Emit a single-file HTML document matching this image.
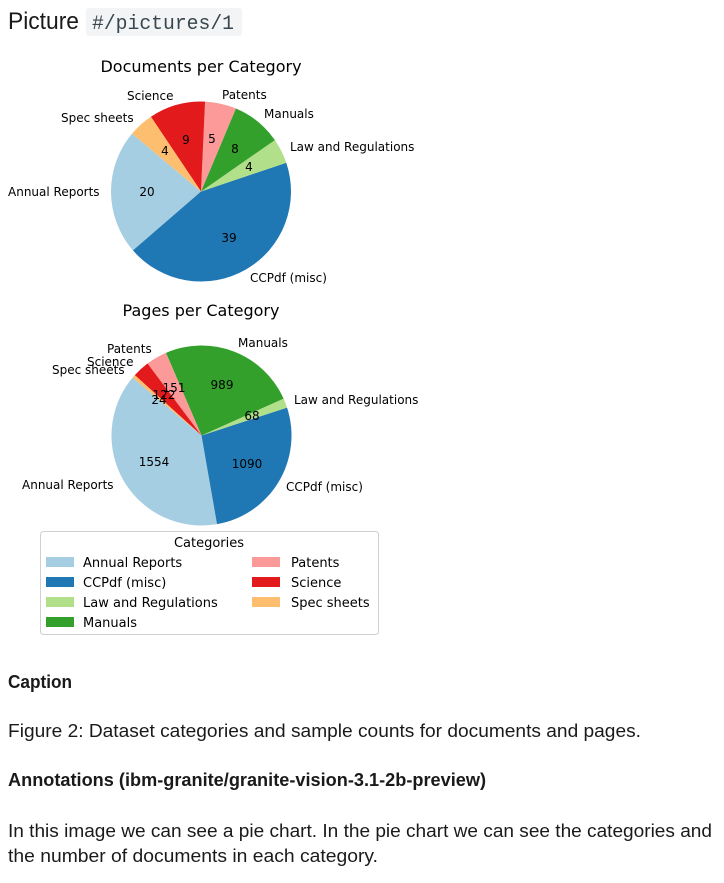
<!DOCTYPE html>
<html><head><meta charset="utf-8"><style>
html,body{margin:0;padding:0;background:#fff;}
svg{display:block;}
.m{font-family:"DejaVu Sans",sans-serif;fill:#000;}
.r{font-family:"Liberation Sans",sans-serif;fill:#1a1a1a;}
</style></head><body>
<svg id="s" width="724" height="883" viewBox="0 0 724 883" xmlns="http://www.w3.org/2000/svg">
<text class="r" x="8" y="29" font-size="24" textLength="71" lengthAdjust="spacingAndGlyphs">Picture</text>
<rect x="86" y="8" width="156" height="28" rx="3" fill="#f3f4f5"/>
<text x="92" y="29" font-family="Liberation Mono,monospace" font-size="20" fill="#38474f" textLength="142" lengthAdjust="spacingAndGlyphs">#/pictures/1</text>

<g id="p1"></g><g id="p2"></g>

<g class="m" font-size="12">
<text x="201" y="72" font-size="16" text-anchor="middle">Documents per Category</text>
<text x="127" y="100">Science</text>
<text x="222" y="99">Patents</text>
<text x="264" y="118">Manuals</text>
<text x="290" y="151">Law and Regulations</text>
<text x="61" y="122">Spec sheets</text>
<text x="8" y="196">Annual Reports</text>
<text x="250" y="282">CCPdf (misc)</text>
<g text-anchor="middle">
<text x="186" y="144">9</text><text x="212" y="143">5</text><text x="235" y="153">8</text>
<text x="249" y="171">4</text><text x="165" y="155">4</text><text x="147" y="196">20</text><text x="229" y="242">39</text>
</g>
<text x="201" y="316" font-size="16" text-anchor="middle">Pages per Category</text>
<text x="238" y="347">Manuals</text>
<text x="107" y="353">Patents</text>
<text x="87" y="366">Science</text>
<text x="52" y="374">Spec sheets</text>
<text x="294" y="404">Law and Regulations</text>
<text x="22" y="489">Annual Reports</text>
<text x="286" y="491">CCPdf (misc)</text>
<g text-anchor="middle">
<text x="174" y="392">151</text><text x="222" y="389">989</text><text x="164" y="399">122</text>
<text x="159" y="404">24</text><text x="252" y="420">68</text><text x="154" y="466">1554</text><text x="247" y="468">1090</text>
</g>
<rect x="40.5" y="531.5" width="338" height="103" rx="3" fill="#fff" stroke="#d0d0d0"/>
<g font-size="13">
<text x="209" y="547" text-anchor="middle">Categories</text>
<rect x="46" y="557" width="28" height="10" fill="#a6cee3"/><text x="83" y="567">Annual Reports</text>
<rect x="46" y="577" width="28" height="10" fill="#1f78b4"/><text x="83" y="587">CCPdf (misc)</text>
<rect x="46" y="597" width="28" height="10" fill="#b2df8a"/><text x="83" y="607">Law and Regulations</text>
<rect x="46" y="617" width="28" height="10" fill="#33a02c"/><text x="83" y="627">Manuals</text>
<rect x="252" y="557" width="28" height="10" fill="#fb9a99"/><text x="291" y="567">Patents</text>
<rect x="252" y="577" width="28" height="10" fill="#e31a1c"/><text x="291" y="587">Science</text>
<rect x="252" y="597" width="28" height="10" fill="#fdbf6f"/><text x="291" y="607">Spec sheets</text>
</g>
</g>

<text class="r" x="8" y="688" font-size="18" font-weight="bold" textLength="64" lengthAdjust="spacingAndGlyphs">Caption</text>
<text class="r" x="8" y="737" font-size="18" textLength="633" lengthAdjust="spacingAndGlyphs">Figure 2: Dataset categories and sample counts for documents and pages.</text>
<text class="r" x="8" y="786" font-size="18" font-weight="bold" textLength="478" lengthAdjust="spacingAndGlyphs">Annotations (ibm-granite/granite-vision-3.1-2b-preview)</text>
<text class="r" x="8" y="837" font-size="18" textLength="704" lengthAdjust="spacingAndGlyphs">In this image we can see a pie chart. In the pie chart we can see the categories and</text>
<text class="r" x="8" y="862" font-size="18" textLength="370" lengthAdjust="spacingAndGlyphs">the number of documents in each category.</text>
</svg>
<script>
var C=["#a6cee3","#1f78b4","#b2df8a","#33a02c","#fb9a99","#e31a1c","#fdbf6f"];
function pie(id,cx,cy,r,vals){
 var t=vals.reduce(function(a,b){return a+b},0),a=140,h="";
 vals.forEach(function(v,i){
  var b=a+v/t*360,a1=a*Math.PI/180,b1=b*Math.PI/180;
  var x1=cx+r*Math.cos(a1),y1=cy-r*Math.sin(a1),x2=cx+r*Math.cos(b1),y2=cy-r*Math.sin(b1);
  var l=(b-a)>180?1:0;
  h+='<path d="M'+cx+' '+cy+' L'+x1+' '+y1+' A'+r+' '+r+' 0 '+l+' 0 '+x2+' '+y2+' Z" fill="'+C[i]+'"/>';
  a=b;});
 document.getElementById(id).innerHTML=h;
}
pie("p1",201,191.5,90,[20,39,4,8,5,9,4]);
pie("p2",201.5,435.5,90,[1554,1090,68,989,151,122,24]);
</script>
</body></html>
